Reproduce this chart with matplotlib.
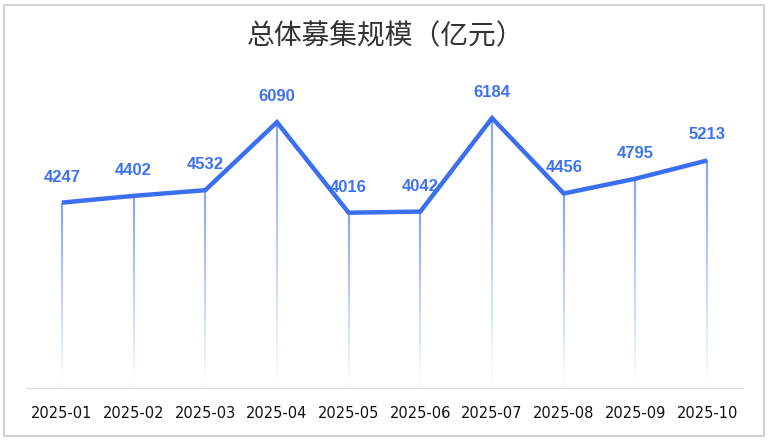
import matplotlib
matplotlib.use("Agg")
import matplotlib.pyplot as plt
import numpy as np
from matplotlib.collections import LineCollection
from matplotlib.patches import Rectangle

months = ["2025-01", "2025-02", "2025-03", "2025-04", "2025-05",
          "2025-06", "2025-07", "2025-08", "2025-09", "2025-10"]
values = [4247, 4402, 4532, 6090, 4016, 4042, 6184, 4456, 4795, 5213]
title = "总体募集规模（亿元）"

plt.rcParams['font.family'] = ['DejaVu Sans', 'Noto Sans CJK SC']

W, H = 771, 442
fig = plt.figure(figsize=(W / 100, H / 100), dpi=100)
ax = fig.add_axes([26 / W, 1 - 388 / H, (743 - 26) / W, (388 - 41) / H])

x = np.arange(len(months))
line_color = "#3a6ff2"

# gradient drop lines
for xi, v in zip(x, values):
    n = 80
    ys = np.linspace(v, 0, n + 1)
    segs = [[(xi, ys[k]), (xi, ys[k + 1])] for k in range(n)]
    alphas = np.linspace(0.85, 0.0, n)
    cols = [(0.42, 0.58, 0.97, a) for a in alphas]
    ax.add_collection(LineCollection(segs, colors=cols, linewidths=1.5, zorder=1))

ax.plot(x, values, color=line_color, lw=3.2, solid_capstyle="butt",
        solid_joinstyle="miter", zorder=3)

for xi, v in zip(x, values):
    ax.annotate(f"{v}", (xi, v), xytext=(0, 13), textcoords="offset points",
                ha="center", va="bottom", color="#3d72f0", fontsize=12,
                fontweight="bold", fontfamily=["Liberation Sans", "DejaVu Sans"])

ax.set_xlim(-0.5, len(months) - 0.5)
ax.set_ylim(0, 7950)
ax.set_xticks(x)
ax.set_xticklabels(months, fontsize=10.5, color="#111111")
ax.tick_params(axis="x", length=0, pad=13)
ax.set_yticks([])
for s in ["top", "right", "left"]:
    ax.spines[s].set_visible(False)
ax.spines["bottom"].set_color("#dddddd")
ax.spines["bottom"].set_linewidth(1)

fig.text(0.5, 1 - 36 / H, title, ha="center", va="center", fontsize=20,
         color="#333333", fontfamily=["Noto Sans CJK SC", "DejaVu Sans"])

fig.patches.append(Rectangle((4 / W, 1 - 436 / H), 760 / W, 431 / H,
                             transform=fig.transFigure, fill=False,
                             edgecolor="#c8c8c8", lw=1.2))

fig.savefig("out.png", dpi=100)
